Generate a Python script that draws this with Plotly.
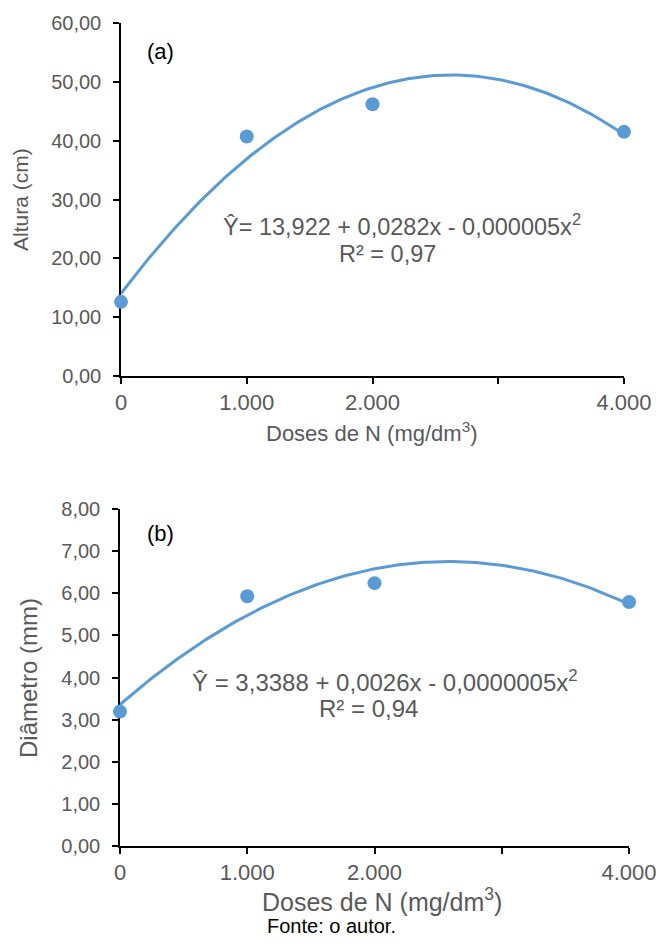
import numpy as np
import plotly.graph_objects as go

# ---- data ----
doses = [0, 1000, 2000, 4000]
altura = [12.6, 40.7, 46.2, 41.5]
diametro = [3.19, 5.93, 6.24, 5.79]

x_tickvals = [0, 1000, 2000, 3000, 4000]
x_ticktext = ["0", "1.000", "2.000", "", "4.000"]
ya_tickvals = [0, 10, 20, 30, 40, 50, 60]
ya_ticktext = ["0,00", "10,00", "20,00", "30,00", "40,00", "50,00", "60,00"]
yb_tickvals = [0, 1, 2, 3, 4, 5, 6, 7, 8]
yb_ticktext = ["0,00", "1,00", "2,00", "3,00", "4,00", "5,00", "6,00", "7,00", "8,00"]

eq_a = "Ŷ= 13,922 + 0,0282x - 0,000005x<sup>2</sup>"
r2_a = "R² = 0,97"
eq_b = "Ŷ = 3,3388 + 0,0026x - 0,0000005x<sup>2</sup>"
r2_b = "R² = 0,94"
x_title = "Doses de N (mg/dm<sup>3</sup>)"
ya_title = "Altura (cm)"
yb_title = "Diâmetro (mm)"
source = "Fonte: o autor."

# ---- geometry ----
W, H = 662, 944
def px(x):
    return x / W
def py(y):
    return 1 - y / H

BLUE = "#5B9BD5"
GRAY = "#595959"
FONT = "Liberation Sans, Arial, sans-serif"

xs = np.linspace(0, 4000, 200)
fit_a = np.polyval(np.polyfit(doses, altura, 2), xs)
fit_b = np.polyval(np.polyfit(doses, diametro, 2), xs)

fig = go.Figure()
fig.add_trace(go.Scatter(x=xs, y=fit_a, mode="lines", line=dict(color=BLUE, width=3),
                         xaxis="x", yaxis="y", showlegend=False, hoverinfo="skip",
                         cliponaxis=False))
fig.add_trace(go.Scatter(x=doses, y=altura, mode="markers", marker=dict(color=BLUE, size=14),
                         xaxis="x", yaxis="y", showlegend=False, cliponaxis=False))
fig.add_trace(go.Scatter(x=xs, y=fit_b, mode="lines", line=dict(color=BLUE, width=3),
                         xaxis="x2", yaxis="y2", showlegend=False, hoverinfo="skip",
                         cliponaxis=False))
fig.add_trace(go.Scatter(x=doses, y=diametro, mode="markers", marker=dict(color=BLUE, size=14),
                         xaxis="x2", yaxis="y2", showlegend=False, cliponaxis=False))

axis_common = dict(showline=True, linecolor="black", linewidth=1.5, ticks="outside",
                   tickcolor="black", ticklen=6, tickwidth=1.5, showgrid=False, zeroline=False,
                   automargin=False, layer="below traces")
xfont = dict(family=FONT, size=22, color=GRAY)
yfont = dict(family=FONT, size=20, color=GRAY)

fig.update_layout(
    width=W, height=H, margin=dict(l=0, r=0, t=0, b=0),
    paper_bgcolor="white", plot_bgcolor="white",
    font=dict(family=FONT, color=GRAY),
    xaxis=dict(domain=[px(121), px(624)], range=[0, 4000], anchor="y",
               tickvals=x_tickvals, ticktext=x_ticktext, tickfont=xfont, **axis_common),
    yaxis=dict(domain=[py(376), py(23)], range=[0, 60], anchor="x",
               tickvals=ya_tickvals, ticktext=ya_ticktext, tickfont=yfont,
               ticklabelstandoff=8, **axis_common),
    xaxis2=dict(domain=[px(120), px(629)], range=[0, 4000], anchor="y2",
                tickvals=x_tickvals, ticktext=x_ticktext, tickfont=xfont, **axis_common),
    yaxis2=dict(domain=[py(846), py(509)], range=[0, 8], anchor="x2",
                tickvals=yb_tickvals, ticktext=yb_ticktext, tickfont=yfont,
                ticklabelstandoff=8, **axis_common),
)

ann = [
    dict(text="(a)", x=px(160), y=py(51), font=dict(size=22, color="black")),
    dict(text="(b)", x=px(160), y=py(533), font=dict(size=22, color="black")),
    dict(text=eq_a, x=px(402), y=py(225), font=dict(size=23.5, color=GRAY)),
    dict(text=r2_a, x=px(387), y=py(254), font=dict(size=23.5, color=GRAY)),
    dict(text=eq_b, x=px(385), y=py(681), font=dict(size=24, color=GRAY)),
    dict(text=r2_b, x=px(368), y=py(708), font=dict(size=24, color=GRAY)),
    dict(text=x_title, x=px(372), y=py(432), font=dict(size=22, color=GRAY)),
    dict(text=x_title, x=px(382), y=py(900), font=dict(size=25, color=GRAY)),
    dict(text=ya_title, x=px(20), y=py(200), font=dict(size=21, color=GRAY), textangle=-90),
    dict(text=yb_title, x=px(28), y=py(678), font=dict(size=24, color=GRAY), textangle=-90),
    dict(text=source, x=px(331), y=py(926), font=dict(size=20, color="black")),
]
for a in ann:
    fig.add_annotation(xref="paper", yref="paper", showarrow=False,
                       xanchor="center", yanchor="middle",
                       font_family=FONT, **{k: v for k, v in a.items()})

fig.write_html("out.html", config={"displayModeBar": False},
               post_script="document.body.style.margin='0';")
